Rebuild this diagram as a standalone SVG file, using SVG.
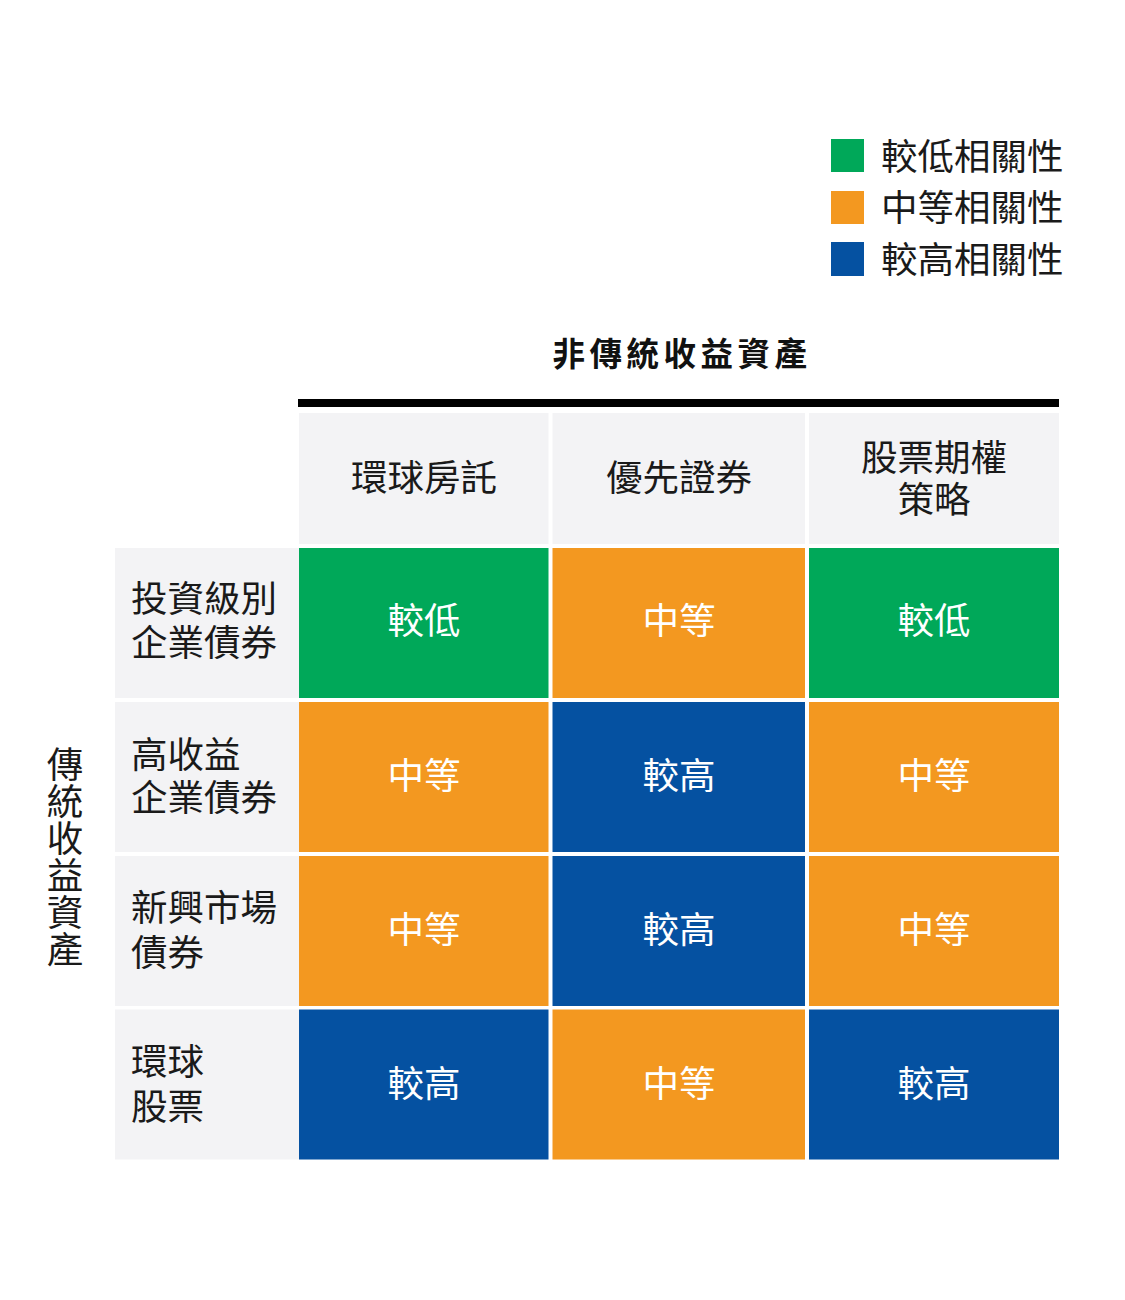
<svg xmlns="http://www.w3.org/2000/svg" width="1125" height="1300" viewBox="0 0 1125 1300">
<style>
text{font-family:"Noto Sans CJK TC","Noto Sans CJK SC",sans-serif;font-size:36.5px}
.lo{fill:#00A859}.mid{fill:#F39820}.hi{fill:#0551A1}.gr{fill:#F3F3F5}
.cv{fill:#ffffff;text-anchor:middle}
.dk{fill:#1a1a1a}
.ct{text-anchor:middle}
.ttl{font-weight:bold;font-size:32.5px;letter-spacing:4.5px;text-anchor:middle;fill:#111}
</style>
<rect width="1125" height="1300" fill="#ffffff"/>
<g id="legend">
<rect class="lo" x="831" y="139" width="33" height="33"/>
<rect class="mid" x="831" y="191" width="33" height="33"/>
<rect class="hi" x="831" y="242" width="33" height="34"/>
<text class="dk" x="881" y="169.5">較低相關性</text>
<text class="dk" x="881" y="221">中等相關性</text>
<text class="dk" x="881" y="272.5">較高相關性</text>
</g>
<g id="title">
<text class="ttl" x="682" y="366">非傳統收益資產</text>
<rect x="298" y="399" width="761" height="8" fill="#000"/>
</g>
<g id="axis-left">
<text class="dk" x="65" y="746" writing-mode="vertical-rl" letter-spacing="0.4">傳統收益資產</text>
</g>
<g id="col-headers">
<g id="col1"><rect class="gr" x="299" y="413" width="249.5" height="131"/><text class="dk ct" x="424" y="491">環球房託</text></g>
<g id="col2"><rect class="gr" x="552.5" y="413" width="252.5" height="131"/><text class="dk ct" x="679" y="491">優先證券</text></g>
<g id="col3"><rect class="gr" x="809" y="413" width="250" height="131"/><text class="dk ct"><tspan x="934" y="471">股票期權</tspan><tspan x="934" y="513">策略</tspan></text></g>
</g>
<g id="row-headers">
<g id="row1"><rect class="gr" x="115" y="548" width="184" height="150"/><text class="dk"><tspan x="131" y="611.5">投資級別</tspan><tspan x="131" y="655.5">企業債券</tspan></text></g>
<g id="row2"><rect class="gr" x="115" y="702" width="184" height="150"/><text class="dk"><tspan x="131" y="767.5">高收益</tspan><tspan x="131" y="810.5">企業債券</tspan></text></g>
<g id="row3"><rect class="gr" x="115" y="856" width="184" height="150"/><text class="dk"><tspan x="131" y="920.5">新興市場</tspan><tspan x="131" y="965.5">債券</tspan></text></g>
<g id="row4"><rect class="gr" x="115" y="1009.5" width="184" height="150"/><text class="dk"><tspan x="131" y="1074.5">環球</tspan><tspan x="131" y="1119.5">股票</tspan></text></g>
</g>
<g id="cells">
<g id="c11"><rect class="lo" x="299" y="548" width="249.5" height="150"/><text class="cv" x="424" y="634">較低</text></g>
<g id="c12"><rect class="mid" x="552.5" y="548" width="252.5" height="150"/><text class="cv" x="679" y="634">中等</text></g>
<g id="c13"><rect class="lo" x="809" y="548" width="250" height="150"/><text class="cv" x="934" y="634">較低</text></g>
<g id="c21"><rect class="mid" x="299" y="702" width="249.5" height="150"/><text class="cv" x="424" y="789">中等</text></g>
<g id="c22"><rect class="hi" x="552.5" y="702" width="252.5" height="150"/><text class="cv" x="679" y="789">較高</text></g>
<g id="c23"><rect class="mid" x="809" y="702" width="250" height="150"/><text class="cv" x="934" y="789">中等</text></g>
<g id="c31"><rect class="mid" x="299" y="856" width="249.5" height="150"/><text class="cv" x="424" y="943">中等</text></g>
<g id="c32"><rect class="hi" x="552.5" y="856" width="252.5" height="150"/><text class="cv" x="679" y="943">較高</text></g>
<g id="c33"><rect class="mid" x="809" y="856" width="250" height="150"/><text class="cv" x="934" y="943">中等</text></g>
<g id="c41"><rect class="hi" x="299" y="1009.5" width="249.5" height="150"/><text class="cv" x="424" y="1097">較高</text></g>
<g id="c42"><rect class="mid" x="552.5" y="1009.5" width="252.5" height="150"/><text class="cv" x="679" y="1097">中等</text></g>
<g id="c43"><rect class="hi" x="809" y="1009.5" width="250" height="150"/><text class="cv" x="934" y="1097">較高</text></g>
</g>
</svg>
